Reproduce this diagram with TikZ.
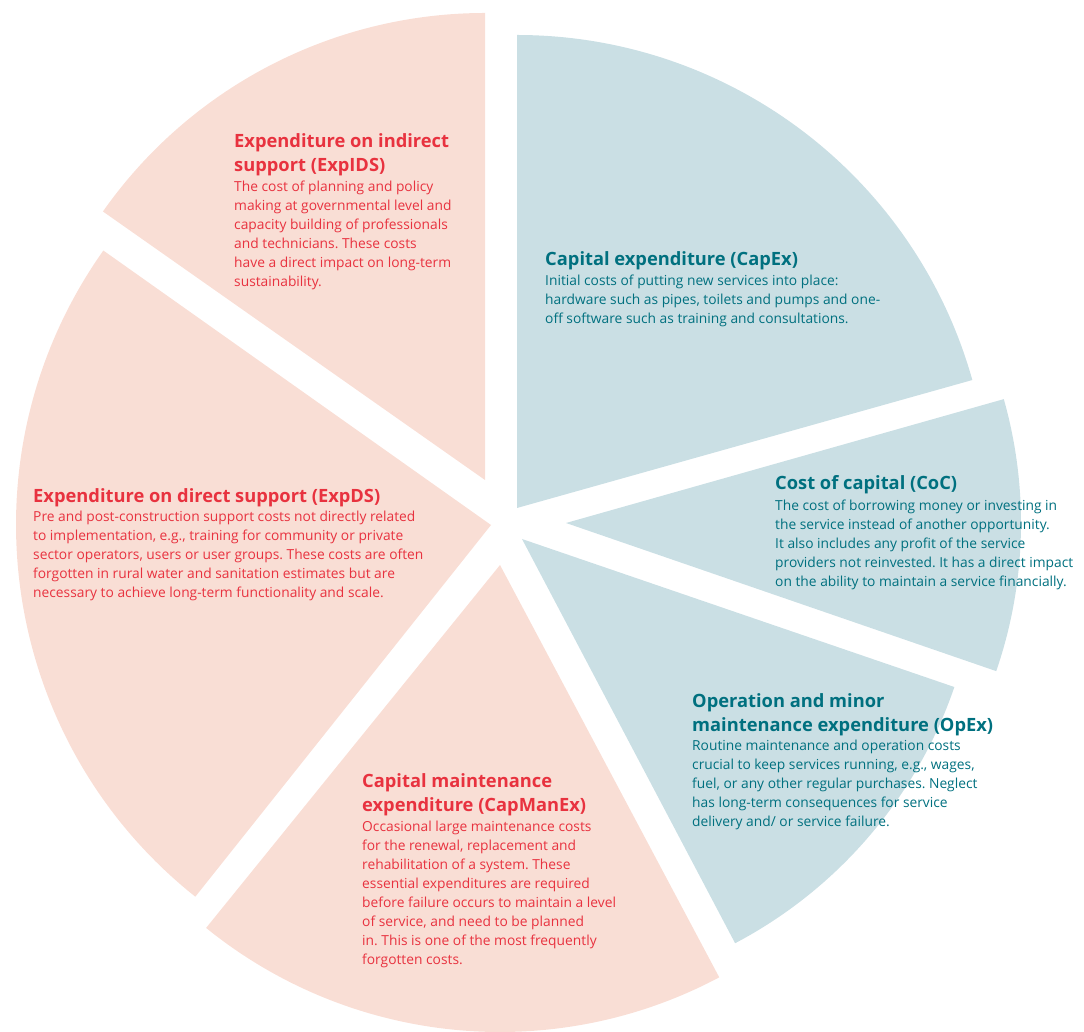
\documentclass[tikz,border=0pt]{standalone}
\usepackage{fontspec}
\setmainfont{Open Sans}
\frenchspacing
\usetikzlibrary{positioning}
\definecolor{piepink}{HTML}{F9DED5}
\definecolor{pieblue}{HTML}{CADFE4}
\definecolor{piered}{HTML}{E8323F}
\definecolor{pieteal}{HTML}{00707F}
\def\pieslice[#1](#2)(#3:#4:#5){\fill[#1] (#2) -- ++(#3:#5) arc (#3:#4:#5) -- cycle;}
\tikzset{
	slicehead/.style={anchor=north west, inner sep=0pt, align=left, font=\bfseries\fontsize{18.3}{24}\selectfont},
	sliceblurb/.style={inner sep=0pt, align=left, font=\fontsize{13.8}{19}\selectfont},
}
\begin{document}
\begin{tikzpicture}[x=1pt,y=1pt]
				\useasboundingbox (0,0) rectangle (1084,1031);
				
				\pieslice[piepink](485,551)(90:144.9:467pt)
				\pieslice[pieblue](517,523)(15.7:90:473pt)
				\pieslice[pieblue](566,508)(-19:15.8:455pt)
				\pieslice[pieblue](522,492)(-62.2:-18.9:457pt)
				\pieslice[piepink](500,466)(-129:-62:467pt)
				\pieslice[piepink](491,506)(144.7:231.5:475pt)
				
				\node[slicehead, text=piered] (expids-t) at (234,897.5) {Expenditure on indirect\\support (ExpIDS)};
				\node[sliceblurb, text=piered, below right=5pt and 0pt of expids-t.south west] (expids-b) {The cost of planning and policy\\making at governmental level and\\capacity building of professionals\\and technicians. These costs\\have a direct impact on long-term\\sustainability.};
				
				\node[slicehead, text=pieteal] (capex-t) at (545,779.5) {Capital expenditure (CapEx)};
				\node[sliceblurb, text=pieteal, below right=5pt and 0pt of capex-t.south west] (capex-b) {Initial costs of putting new services into place:\\hardware such as pipes, toilets and pumps and one-\\off software such as training and consultations.};
				
				\node[slicehead, text=pieteal] (coc-t) at (775,555.5) {Cost of capital (CoC)};
				\node[sliceblurb, text=pieteal, below right=5pt and 0pt of coc-t.south west] (coc-b) {The cost of borrowing money or investing in\\the service instead of another opportunity.\\It also includes any profit of the service\\providers not reinvested. It has a direct impact\\on the ability to maintain a service financially.};
				
				\node[slicehead, text=pieteal] (opex-t) at (692,337.5) {Operation and minor\\maintenance expenditure (OpEx)};
				\node[sliceblurb, text=pieteal, below right=3.5pt and 0pt of opex-t.south west] (opex-b) {Routine maintenance and operation costs\\crucial to keep services running, e.g., wages,\\fuel, or any other regular purchases. Neglect\\has long-term consequences for service\\delivery and/ or service failure.};
				
				\node[slicehead, text=piered] (capmanex-t) at (362,257.5) {Capital maintenance\\expenditure (CapManEx)};
				\node[sliceblurb, text=piered, below right=5pt and 0pt of capmanex-t.south west] (capmanex-b) {Occasional large maintenance costs\\for the renewal, replacement and\\rehabilitation of a system. These\\essential expenditures are required\\before failure occurs to maintain a level\\of service, and need to be planned\\in. This is one of the most frequently\\forgotten costs.};
				
				\node[slicehead, text=piered] (expds-t) at (33,542.5) {Expenditure on direct support (ExpDS)};
				\node[sliceblurb, text=piered, below right=3.5pt and 0pt of expds-t.south west] (expds-b) {Pre and post-construction support costs not directly related\\to implementation, e.g., training for community or private\\sector operators, users or user groups. These costs are often\\forgotten in rural water and sanitation estimates but are\\necessary to achieve long-term functionality and scale.};
			\end{tikzpicture}
\end{document}
